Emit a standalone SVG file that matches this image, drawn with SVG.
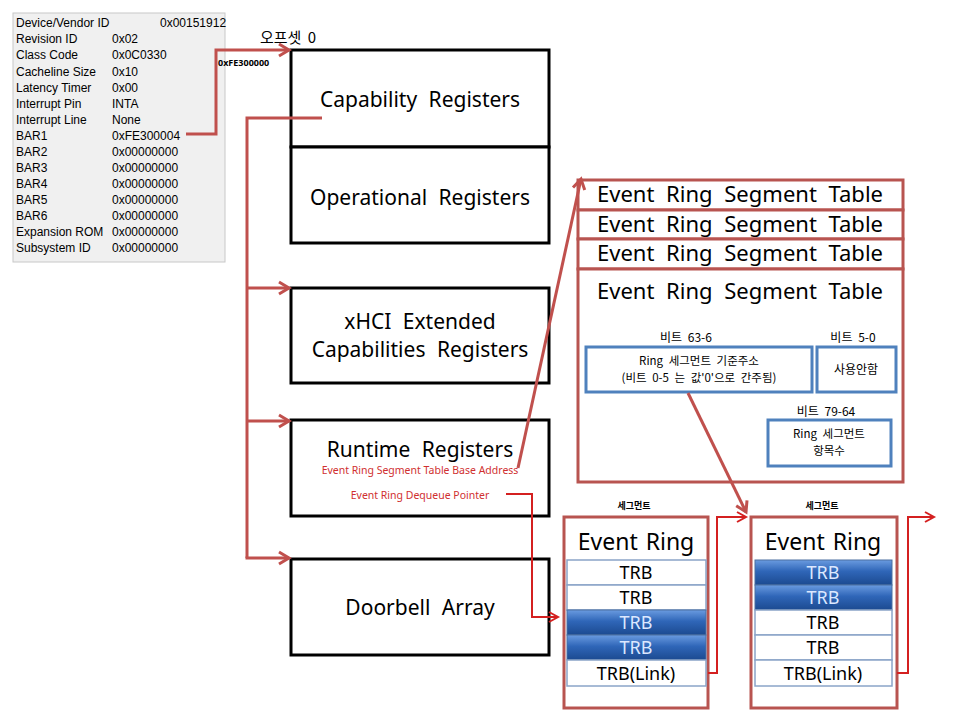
<svg xmlns="http://www.w3.org/2000/svg" width="960" height="720" viewBox="0 0 960 720">
<style>
.pci{font-family:"Liberation Sans","DejaVu Sans",sans-serif;font-size:12px;fill:#000}
.reg{fill:#fff;stroke:#000;stroke-width:3}
.big{font-family:"Noto Sans","Noto Sans CJK KR",sans-serif;font-size:21px;fill:#000;text-anchor:middle;word-spacing:6px}
.erst{fill:#fff;stroke:#b85450;stroke-width:3}
.blue{fill:#fff;stroke:#4f81bd;stroke-width:3}
.kr{font-family:"Noto Sans CJK KR","Noto Sans",sans-serif;font-size:12px;fill:#000;text-anchor:middle;word-spacing:3px}
.kr2{font-family:"Noto Sans CJK KR","Noto Sans",sans-serif;font-size:11.5px;fill:#000;text-anchor:middle;word-spacing:3px}
.red{font-family:"Noto Sans","Noto Sans CJK KR",sans-serif;font-size:10.5px;fill:#d03030;text-anchor:middle}
.conn{fill:none;stroke:#c0504d;stroke-width:3}
.conn2{fill:none;stroke:#d42020;stroke-width:2}
.trbw{fill:#fff;stroke:#8aa4c8;stroke-width:1.5}
.trbb{fill:url(#gb);stroke:#4a6fa0;stroke-width:1}
.trbt{font-family:"Noto Sans","Noto Sans CJK KR",sans-serif;font-size:18px;text-anchor:middle;fill:#000}
.trbtw{font-family:"Noto Sans","Noto Sans CJK KR",sans-serif;font-size:18px;text-anchor:middle;fill:#dce8ff}
</style>
<defs>
<linearGradient id="gb" x1="0" y1="0" x2="0" y2="1">
<stop offset="0" stop-color="#6a9be0"/>
<stop offset="0.45" stop-color="#2f66b8"/>
<stop offset="1" stop-color="#1c4a90"/>
</linearGradient>
<marker id="ah" markerUnits="userSpaceOnUse" markerWidth="16" markerHeight="16" refX="13" refY="8" orient="auto">
<path d="M3,2 L13,8 L3,14" fill="none" stroke="#c0504d" stroke-width="3"/>
</marker>
<marker id="ah2" markerUnits="userSpaceOnUse" markerWidth="16" markerHeight="16" refX="12" refY="8" orient="auto">
<path d="M3,3 L12,8 L3,13" fill="none" stroke="#d42020" stroke-width="2"/>
</marker>
</defs>
<rect width="960" height="720" fill="#fff"/>

<g id="pci-config">
<rect x="13" y="13" width="212" height="249" fill="#f0f0f0" stroke="#c8c8c8"/>
<text class="pci" x="16" y="27">Device/Vendor ID</text><text class="pci" x="160" y="27">0x00151912</text>
<text class="pci" x="16" y="43">Revision ID</text><text class="pci" x="112" y="43">0x02</text>
<text class="pci" x="16" y="59">Class Code</text><text class="pci" x="112" y="59">0x0C0330</text>
<text class="pci" x="16" y="76">Cacheline Size</text><text class="pci" x="112" y="76">0x10</text>
<text class="pci" x="16" y="92">Latency Timer</text><text class="pci" x="112" y="92">0x00</text>
<text class="pci" x="16" y="108">Interrupt Pin</text><text class="pci" x="112" y="108">INTA</text>
<text class="pci" x="16" y="124">Interrupt Line</text><text class="pci" x="112" y="124">None</text>
<text class="pci" x="16" y="140">BAR1</text><text class="pci" x="112" y="140">0xFE300004</text>
<text class="pci" x="16" y="156">BAR2</text><text class="pci" x="112" y="156">0x00000000</text>
<text class="pci" x="16" y="172">BAR3</text><text class="pci" x="112" y="172">0x00000000</text>
<text class="pci" x="16" y="188">BAR4</text><text class="pci" x="112" y="188">0x00000000</text>
<text class="pci" x="16" y="204">BAR5</text><text class="pci" x="112" y="204">0x00000000</text>
<text class="pci" x="16" y="220">BAR6</text><text class="pci" x="112" y="220">0x00000000</text>
<text class="pci" x="16" y="236">Expansion ROM</text><text class="pci" x="112" y="236">0x00000000</text>
<text class="pci" x="16" y="252">Subsystem ID</text><text class="pci" x="112" y="252">0x00000000</text>
</g>

<g id="labels-top">
<text x="288" y="43" style="font-family:'Noto Sans CJK KR',sans-serif;font-size:15px;text-anchor:middle;word-spacing:3px">오프셋 0</text>
<text x="218" y="66" style="font-family:'Noto Sans','Liberation Sans',sans-serif;font-size:9px;font-weight:bold">0xFE300000</text>
</g>

<g id="capability">
<rect class="reg" x="291" y="50" width="258" height="97"/>
<text class="big" x="420" y="107">Capability Registers</text>
</g>
<g id="operational">
<rect class="reg" x="291" y="147" width="258" height="96"/>
<text class="big" x="420" y="205">Operational Registers</text>
</g>
<g id="xhci-ext">
<rect class="reg" x="291" y="288" width="258" height="95"/>
<text class="big" x="420" y="329">xHCI Extended</text>
<text class="big" x="420" y="357">Capabilities Registers</text>
</g>
<g id="runtime">
<rect class="reg" x="291" y="420" width="258" height="96"/>
<text class="big" x="420" y="457">Runtime Registers</text>
<text class="red" x="420" y="474">Event Ring Segment Table Base Address</text>
<text class="red" x="420" y="499">Event Ring Dequeue Pointer</text>
</g>
<g id="doorbell">
<rect class="reg" x="291" y="559" width="258" height="96"/>
<text class="big" x="420" y="615">Doorbell Array</text>
</g>

<g id="erst">
<rect class="erst" x="578" y="180" width="325" height="30"/>
<rect class="erst" x="578" y="210" width="325" height="29"/>
<rect class="erst" x="578" y="239" width="325" height="30"/>
<rect class="erst" x="578" y="269" width="325" height="213"/>
<text class="big" x="740" y="202" style="font-size:22px">Event Ring Segment Table</text>
<text class="big" x="740" y="232" style="font-size:22px">Event Ring Segment Table</text>
<text class="big" x="740" y="261" style="font-size:22px">Event Ring Segment Table</text>
<text class="big" x="740" y="299" style="font-size:22px">Event Ring Segment Table</text>
</g>
<g id="base-addr">
<text class="kr" x="686" y="342">비트 63-6</text>
<rect class="blue" x="586" y="347" width="226" height="45"/>
<text class="kr2" x="699" y="365">Ring 세그먼트 기준주소</text>
<text class="kr2" x="699" y="382">(비트 0-5 는 값'0'으로 간주됨)</text>
</g>
<g id="reserved">
<text class="kr" x="853" y="342">비트 5-0</text>
<rect class="blue" x="817" y="347" width="79" height="45"/>
<text class="kr" x="856" y="374">사용안함</text>
</g>
<g id="seg-size">
<text class="kr" x="826" y="416">비트 79-64</text>
<rect class="blue" x="768" y="420" width="123" height="46"/>
<text class="kr2" x="829" y="438">Ring 세그먼트</text>
<text class="kr2" x="829" y="455">항목수</text>
</g>

<g id="event-ring-1">
<text x="634" y="509" style="font-family:'Noto Sans CJK KR',sans-serif;font-size:9px;font-weight:bold;text-anchor:middle">세그먼트</text>
<rect class="erst" x="564" y="517" width="144" height="191"/>
<text class="big" x="636" y="550" style="font-size:23px;word-spacing:2px">Event Ring</text>
<rect class="trbw" x="567" y="560" width="139" height="25"/>
<rect class="trbw" x="567" y="585" width="139" height="25"/>
<rect class="trbb" x="567" y="610" width="139" height="25"/>
<rect class="trbb" x="567" y="635" width="139" height="25"/>
<rect class="trbw" x="567" y="660" width="139" height="26"/>
<text class="trbt" x="636" y="579">TRB</text>
<text class="trbt" x="636" y="604">TRB</text>
<text class="trbtw" x="636" y="629">TRB</text>
<text class="trbtw" x="636" y="654">TRB</text>
<text class="trbt" x="636" y="680">TRB(Link)</text>
</g>

<g id="event-ring-2">
<text x="822" y="509" style="font-family:'Noto Sans CJK KR',sans-serif;font-size:9px;font-weight:bold;text-anchor:middle">세그먼트</text>
<rect class="erst" x="751" y="517" width="146" height="191"/>
<text class="big" x="823" y="550" style="font-size:23px;word-spacing:2px">Event Ring</text>
<rect class="trbb" x="755" y="560" width="137" height="25"/>
<rect class="trbb" x="755" y="585" width="137" height="25"/>
<rect class="trbw" x="755" y="610" width="137" height="25"/>
<rect class="trbw" x="755" y="635" width="137" height="25"/>
<rect class="trbw" x="755" y="660" width="137" height="26"/>
<text class="trbtw" x="823" y="579">TRB</text>
<text class="trbtw" x="823" y="604">TRB</text>
<text class="trbt" x="823" y="629">TRB</text>
<text class="trbt" x="823" y="654">TRB</text>
<text class="trbt" x="823" y="680">TRB(Link)</text>
</g>

<g id="connectors">
<polyline class="conn" points="186,134 216,134 216,50 289,50" marker-end="url(#ah)"/>
<polyline class="conn" points="322,118 247,118 247,558"/>
<line class="conn" x1="247" y1="288" x2="289" y2="288" marker-end="url(#ah)"/>
<line class="conn" x1="247" y1="421" x2="289" y2="421" marker-end="url(#ah)"/>
<line class="conn" x1="245.5" y1="558" x2="289" y2="558" marker-end="url(#ah)"/>
<line class="conn" x1="518" y1="468" x2="581" y2="179" marker-end="url(#ah)"/>
<line class="conn" x1="688" y1="393" x2="746" y2="512" marker-end="url(#ah)"/>
<polyline class="conn2" points="506,494 532,494 532,617 558,617" marker-end="url(#ah2)"/>
<polyline class="conn2" points="708,673 717,673 717,517 746,517" marker-end="url(#ah2)"/>
<polyline class="conn2" points="897,673 908,673 908,517 934,517" marker-end="url(#ah2)"/>
</g>
</svg>
